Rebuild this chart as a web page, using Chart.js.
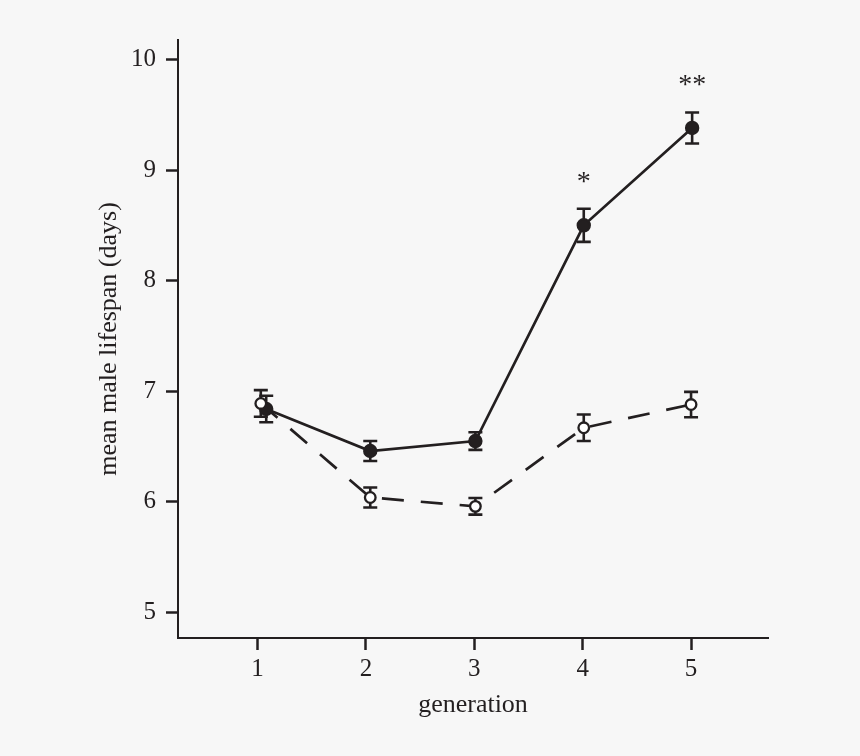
<!DOCTYPE html>
<html>
<head>
<meta charset="utf-8">
<script src="https://cdn.jsdelivr.net/npm/chart.js@4.4.0/dist/chart.umd.min.js"></script>
<style>
    html, body { margin: 0; padding: 0; background: #f7f7f7; }
    #container-canvas { width: 860px; height: 756px; }
</style>
</head>
<body>
<div id="container-canvas"><canvas id="myChart"></canvas></div>
<script>
const xTicks = [1, 2, 3, 4, 5]
const yTicks = [5, 6, 7, 8, 9, 10]

// filled circles, solid line
const selectedX = [1.08, 2.04, 3.01, 4.01, 5.01]
const selectedMean = [6.84, 6.46, 6.55, 8.50, 9.38]
const selectedErr = [0.12, 0.09, 0.08, 0.15, 0.14]

// open circles, dashed line
const controlX = [1.03, 2.04, 3.01, 4.01, 5.0]
const controlMean = [6.89, 6.04, 5.96, 6.67, 6.88]
const controlErr = [0.12, 0.09, 0.075, 0.12, 0.115]

const signif = ['', '', '', '*', '**']

const ink = '#231f20'
const serif = 'Liberation Serif'

const toPoints = (xs, ys) => xs.map((x, i) => ({ x: x, y: ys[i] }))

const errorBars = {
    id: 'errorBars',
    beforeDatasetsDraw(chart) {
        const { ctx, scales: { x, y } } = chart
        ctx.save()
        ctx.strokeStyle = ink
        ctx.lineWidth = 2.6
        chart.data.datasets.forEach(ds => {
            ds.errors.forEach((e, i) => {
                const px = x.getPixelForValue(ds.data[i].x)
                const top = y.getPixelForValue(ds.data[i].y + e)
                const bot = y.getPixelForValue(ds.data[i].y - e)
                ctx.beginPath()
                ctx.moveTo(px, top); ctx.lineTo(px, bot)
                ctx.moveTo(px - 7, top); ctx.lineTo(px + 7, top)
                ctx.moveTo(px - 7, bot); ctx.lineTo(px + 7, bot)
                ctx.stroke()
            })
        })
        ctx.restore()
    },
    afterDatasetsDraw(chart) {
        const { ctx, scales: { x, y } } = chart
        ctx.save()
        ctx.fillStyle = ink
        ctx.font = '28px "' + serif + '"'
        ctx.textAlign = 'center'
        ctx.textBaseline = 'alphabetic'
        signif.forEach((s, i) => {
            if (!s) return
            const px = x.getPixelForValue(selectedX[i])
            const top = y.getPixelForValue(selectedMean[i] + selectedErr[i])
            ctx.fillText(s, px, top - 19)
        })
        ctx.restore()
    }
}

new Chart(document.getElementById('myChart'), {
    type: 'line',
    data: {
        datasets: [
            {
                label: 'control',
                data: toPoints(controlX, controlMean),
                errors: controlErr,
                order: 0,
                borderColor: ink,
                borderWidth: 2.7,
                borderDash: [22, 17],
                tension: 0,
                pointRadius: 5.3,
                pointBorderWidth: 2.3,
                pointBackgroundColor: '#ffffff',
                pointBorderColor: ink
            },
            {
                label: 'selected',
                data: toPoints(selectedX, selectedMean),
                errors: selectedErr,
                order: 1,
                borderColor: ink,
                borderWidth: 2.7,
                tension: 0,
                pointRadius: 6.2,
                pointBorderWidth: 2,
                pointBackgroundColor: ink,
                pointBorderColor: ink
            }
        ]
    },
    options: {
        responsive: true,
        maintainAspectRatio: false,
        animation: false,
        layout: { padding: { top: 40, right: 92, left: 0, bottom: 0 } },
        plugins: { legend: { display: false }, tooltip: { enabled: false } },
        scales: {
            x: {
                type: 'linear',
                min: 0.266,
                max: 5.71,
                afterBuildTicks: s => { s.ticks = xTicks.map(v => ({ value: v })) },
                afterFit: s => { s.height = 118 },
                border: { display: true, color: ink, width: 2 },
                grid: { drawOnChartArea: false, drawTicks: true, tickLength: 12, tickColor: ink, tickWidth: 2.5 },
                ticks: { color: ink, padding: 4, font: { family: serif, size: 25 } },
                title: {
                    display: true,
                    text: 'generation',
                    color: ink,
                    font: { family: serif, size: 26 },
                    padding: { top: 0, bottom: 35 }
                }
            },
            y: {
                type: 'linear',
                min: 4.77,
                max: 10.175,
                afterBuildTicks: s => { s.ticks = yTicks.map(v => ({ value: v })) },
                afterFit: s => { s.width = 178 },
                border: { display: true, color: ink, width: 2 },
                grid: { drawOnChartArea: false, drawTicks: true, tickLength: 12, tickColor: ink, tickWidth: 2.5 },
                ticks: { color: ink, padding: 10, font: { family: serif, size: 25 } },
                title: {
                    display: true,
                    text: 'mean male lifespan (days)',
                    color: ink,
                    font: { family: serif, size: 26 },
                    padding: { top: 94, bottom: 0 }
                }
            }
        }
    },
    plugins: [errorBars]
});
</script>
</body>
</html>
